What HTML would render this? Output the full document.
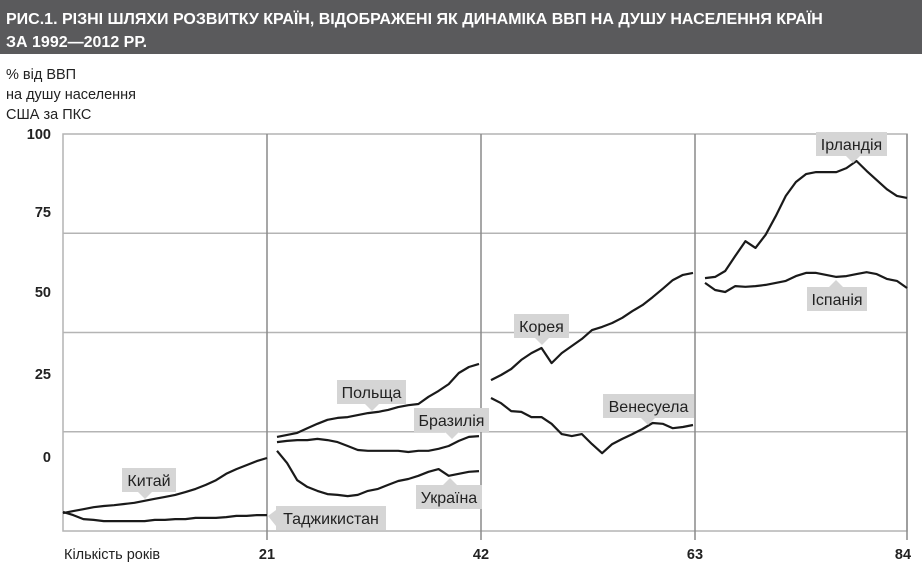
<!DOCTYPE html>
<html><head><meta charset="utf-8"><style>
body{margin:0;width:922px;height:565px;background:#fff;overflow:hidden;font-family:"Liberation Sans",sans-serif}
#hdr{position:absolute;left:0;top:0;width:922px;height:54px;background:#5a5a5c;color:#fff;font-weight:bold;font-size:16px;line-height:23px;padding:8px 0 0 6px;box-sizing:border-box;letter-spacing:0px}
#yt{position:absolute;left:6px;top:65px;font-size:14.5px;line-height:20px;color:#222}
</style></head><body>
<div id="hdr">РИС.1. РІЗНІ ШЛЯХИ РОЗВИТКУ КРАЇН, ВІДОБРАЖЕНІ ЯК ДИНАМІКА ВВП НА ДУШУ НАСЕЛЕННЯ КРАЇН<br>ЗА 1992—2012 РР.</div>
<div id="yt">% від ВВП<br>на душу населення<br>США за ПКС</div>
<svg id="c" width="922" height="565" style="position:absolute;left:0;top:0"></svg>
<script>
const china=[4.5,5.0,5.5,6.0,6.3,6.5,6.8,7.1,7.6,8.1,8.6,9.1,9.8,10.6,11.6,12.8,14.4,15.6,16.6,17.6,18.4];
const tajik=[4.8,4.0,3.0,2.8,2.5,2.5,2.5,2.5,2.5,2.8,2.8,3.0,3.0,3.3,3.3,3.3,3.5,3.8,3.8,4.0,4.0];
const poland=[23.7,24.2,24.7,25.9,27.0,28.0,28.5,28.7,29.2,29.7,30.0,30.5,31.2,31.7,32.0,33.8,35.3,37.0,39.8,41.3,42.1];
const brazil=[22.4,22.7,22.9,22.9,23.2,22.9,22.4,21.4,20.4,20.2,20.2,20.2,20.2,19.9,20.2,20.2,20.7,21.4,22.7,23.7,23.9];
const ukraine=[20.2,17.1,12.8,11.1,10.1,9.3,9.1,8.8,9.1,10.1,10.6,11.6,12.6,13.1,13.9,14.9,15.6,13.9,14.4,14.9,15.1];
const korea=[38.0,39.3,40.8,43.1,44.8,46.1,42.3,44.8,46.6,48.4,50.6,51.4,52.4,53.7,55.4,56.9,58.9,61.0,63.2,64.5,65.0];
const venezuela=[33.5,32.2,30.2,30.0,28.7,28.7,27.0,24.4,23.9,24.4,21.9,19.6,21.9,23.2,24.4,25.7,27.2,27.0,25.9,26.2,26.7];
const ireland=[63.7,64.0,65.5,69.3,73.0,71.3,74.6,79.3,84.4,87.9,89.9,90.4,90.4,90.4,91.4,93.2,90.7,88.4,86.1,84.4,83.9];
const spain=[62.5,60.7,60.2,61.7,61.5,61.7,62.0,62.5,63.0,64.2,65.0,65.0,64.5,64.0,64.2,64.7,65.2,64.7,63.5,63.0,61.2];
const yTickLabels=["100","75","50","25","0"];
const xTickLabels=["21","42","63","84"];
const series=[[china,0],[tajik,0],[poland,1],[brazil,1],[ukraine,1],[korea,2],[venezuela,2],[ireland,3],[spain,3]];
const NS="http://www.w3.org/2000/svg",svg=document.getElementById('c');
function y(v){return 531-v*3.97;}
function x(panel,i){return panel===0?63+i*10.2:[267,481,695][panel-1]+10+i*10.1;}
function mk(t,a){const e=document.createElementNS(NS,t);for(const k in a)e.setAttribute(k,a[k]);svg.appendChild(e);return e;}
[25,50,75].forEach(v=>{const l=mk('line',{x1:63,x2:907,y1:y(v),y2:y(v),stroke:'#b4b4b4','stroke-width':1.5});

});
const fr=mk('rect',{x:63,y:134,width:844,height:397,fill:'none',stroke:'#b4b4b4','stroke-width':1.5});


[267,481,695].forEach(px=>{const l=mk('line',{x1:px,x2:px,y1:134,y2:540,stroke:'#8a8a8a','stroke-width':1.5});

});
mk('line',{x1:907,x2:907,y1:134,y2:540,stroke:'#8a8a8a','stroke-width':1.5});
const yPos=[139,217,297,379,462];
yTickLabels.forEach((t,i)=>{const e=mk('text',{x:51,y:yPos[i],'text-anchor':'end','font-size':14.5,'font-weight':'bold',fill:'#222'});e.textContent=t;

});
const xl=mk('text',{x:64,y:559,'font-size':14.5,fill:'#222'});xl.textContent='Кількість років';


[267,481,695,903].forEach((px,i)=>{const e=mk('text',{x:px,y:559,'text-anchor':'middle','font-size':14.5,'font-weight':'bold',fill:'#222'});e.textContent=xTickLabels[i];

});
series.forEach(([d,p])=>{const pts=d.map((v,i)=>x(p,i).toFixed(1)+','+y(v).toFixed(1)).join(' ');
const l=mk('polyline',{points:pts,fill:'none',stroke:'#1a1a1a','stroke-width':2.2,'stroke-linejoin':'round'});

});
const callouts=[["Китай",122,468,54,145,'down'],["Таджикистан",276,506,110,267,'left'],["Польща",337,380,69,372,'down'],["Бразилія",414,408,75,452,'down'],["Україна",416,485,66,450,'up'],["Корея",514,314,55,542,'down'],["Венесуела",603,394,91,648,'down'],["Ірландія",816,132,71,853,'down'],["Іспанія",807,287,60,836,'up']];
callouts.forEach(([t,bx,by,w,px,dir])=>{const g=document.createElementNS(NS,'g');svg.appendChild(g);


const h=24;let tri;
if(dir==='down')tri=`${px-7},${by+h} ${px+7},${by+h} ${px},${by+h+7}`;
else if(dir==='up')tri=`${px-7},${by} ${px+7},${by} ${px},${by-7}`;
else tri=`${bx},${by+4} ${bx},${by+20} ${px+1},${by+10}`;
const r=document.createElementNS(NS,'rect');r.setAttribute('x',bx);r.setAttribute('y',by);r.setAttribute('width',w);r.setAttribute('height',h);r.setAttribute('fill','#d5d5d5');g.appendChild(r);
const pg=document.createElementNS(NS,'polygon');pg.setAttribute('points',tri);pg.setAttribute('fill','#d5d5d5');g.appendChild(pg);
const tx=document.createElementNS(NS,'text');tx.setAttribute('x',bx+w/2);tx.setAttribute('y',by+18);tx.setAttribute('text-anchor','middle');tx.setAttribute('font-size',16);tx.setAttribute('fill','#222');tx.textContent=t;g.appendChild(tx);});
</script>
</body></html>
